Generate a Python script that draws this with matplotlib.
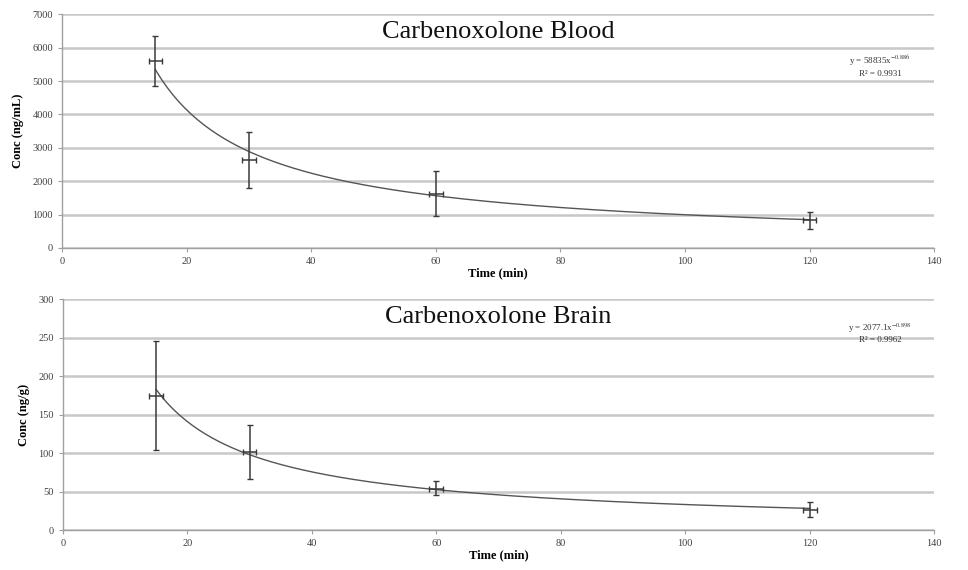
import matplotlib
matplotlib.use("Agg")
import matplotlib.pyplot as plt
import numpy as np

# sampling times (min)
times = [15, 30, 60, 120]
time_err = [1.1, 1.1, 1.1, 1.1]

# blood concentrations (ng/mL)
blood_mean = [5594, 2632, 1606, 838]
blood_lo = [4855, 1786, 948, 568]
blood_hi = [6350, 3479, 2313, 1086]
blood_fit = (58835, -0.886)

# brain concentrations (ng/g)
brain_mean = [174, 102, 53, 26]
brain_lo = [104, 66, 45, 17]
brain_hi = [246, 137, 64, 36]
brain_fit = (2077.1, -0.898)

plt.rcParams["mathtext.fontset"] = "stix"

SERIF = ["Liberation Serif", "DejaVu Serif"]
GRID = "#c8c8c8"
INK = "#3a3a3a"


def panel(ax, mean, lo, hi, fit, title, ylabel, ymax, ystep, eq, r2, eq_y):
    yerr = [np.subtract(mean, lo), np.subtract(hi, mean)]
    ax.errorbar(times, mean, yerr=yerr, xerr=time_err, fmt="none",
                ecolor=INK, elinewidth=1.1, capsize=2.5, capthick=1.0, zorder=3)
    xs = np.linspace(times[0], times[-1], 200)
    ax.plot(xs, fit[0] * xs ** fit[1], color="#555555", lw=1.0, zorder=2)

    ax.set_xlim(0, 140)
    ax.set_ylim(0, ymax)
    ax.set_xticks(np.arange(0, 141, 20))
    ax.set_yticks(np.arange(0, ymax + 1, ystep))
    ax.yaxis.grid(True, color=GRID, lw=1.8)
    ax.set_axisbelow(True)
    for s in ("top", "right"):
        ax.spines[s].set_visible(False)
    for s in ("left", "bottom"):
        ax.spines[s].set_color("#a0a0a0")
        ax.spines[s].set_linewidth(1.0)
    ax.tick_params(colors="#a0a0a0", labelcolor="#404040", labelsize=7.5, length=3)
    for lab in ax.get_xticklabels() + ax.get_yticklabels():
        lab.set_family(SERIF)
    ax.set_xlabel("Time (min)", family=SERIF, fontsize=9, fontweight="bold", labelpad=1)
    ax.set_ylabel(ylabel, family=SERIF, fontsize=9, fontweight="bold", labelpad=6)
    ax.text(0.50, 0.925, title, transform=ax.transAxes, ha="center", va="center",
            family=SERIF, fontsize=19, color="#111111")
    ax.text(0.938, eq_y, eq + "\n" + r2, transform=ax.transAxes, ha="center", va="center",
            family=SERIF, fontsize=6.5, color="#333333", linespacing=1.3)


fig = plt.figure(figsize=(9.68, 5.70), dpi=100)
fig.patch.set_facecolor("white")
ax1 = fig.add_axes([0.064, 0.565, 0.901, 0.41])
ax2 = fig.add_axes([0.065, 0.070, 0.900, 0.405])

panel(ax1, blood_mean, blood_lo, blood_hi, blood_fit, "Carbenoxolone Blood",
      "Conc (ng/mL)", 7000, 1000, r"y = 58835x$^{-0.886}$", r"R² = 0.9931", 0.78)
panel(ax2, brain_mean, brain_lo, brain_hi, brain_fit, "Carbenoxolone Brain",
      "Conc (ng/g)", 300, 50, r"y = 2077.1x$^{-0.898}$", r"R² = 0.9962", 0.855)

fig.savefig("out.png", dpi=100, facecolor="white")
